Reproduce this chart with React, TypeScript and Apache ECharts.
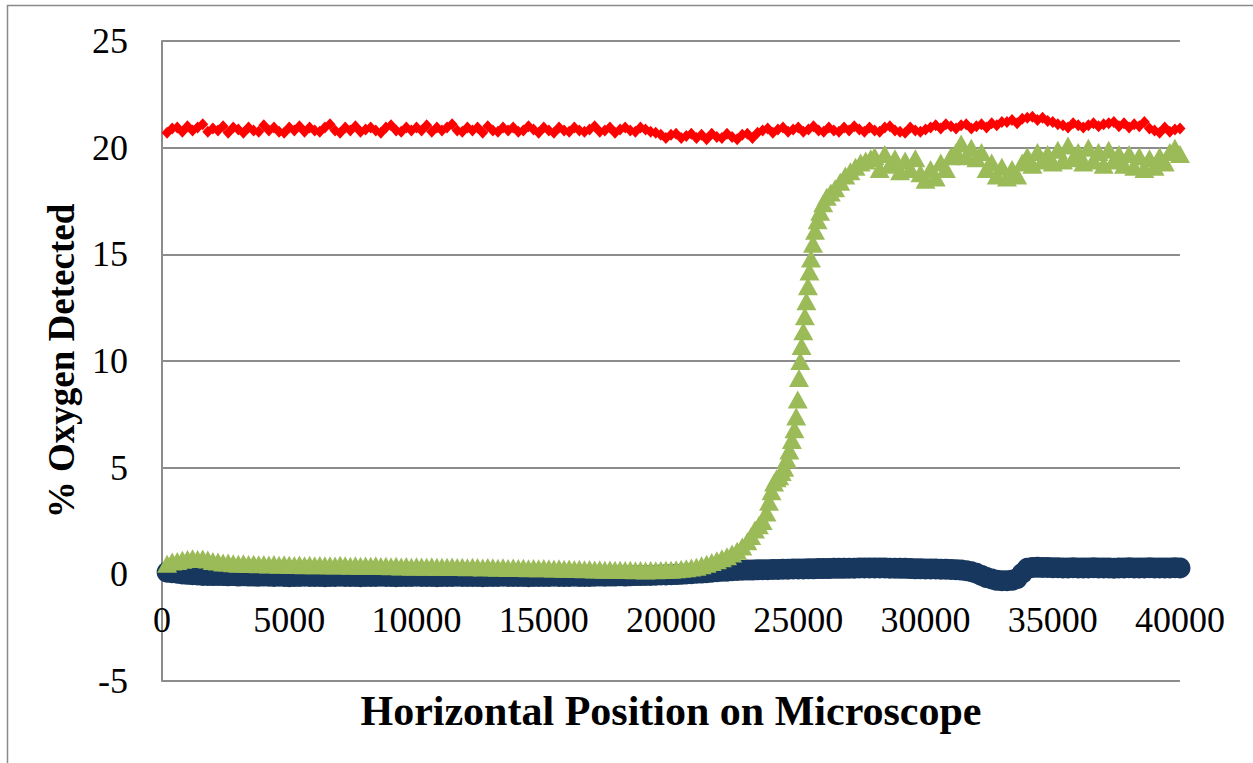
import React, { useEffect, useRef } from "react";
import * as echarts from "echarts";

// Positions on the microscope sampled every 200 units (red and blue series)
const X_START = 200;
const X_STEP = 200;

// Red series: % oxygen (upper trace)
const redValues = [
  20.7, 20.9, 20.95, 20.75, 21.0, 20.8, 20.95, 21.1, 20.75, 20.9,
  20.8, 21.0, 20.7, 20.95, 20.85, 20.7, 20.95, 20.8, 20.75, 21.05,
  20.8, 20.95, 20.75, 20.7, 20.95, 20.8, 21.0, 20.75, 20.95, 20.8,
  20.75, 20.95, 21.1, 20.8, 20.7, 20.95, 20.8, 21.0, 20.75, 20.85,
  20.95, 20.8, 20.7, 20.95, 21.05, 20.8, 20.75, 20.95, 20.8, 20.95,
  20.8, 21.05, 20.75, 20.95, 20.8, 20.95, 21.1, 20.8, 20.75, 20.95,
  20.8, 20.95, 20.7, 21.0, 20.8, 20.75, 20.95, 20.8, 20.95, 20.75,
  20.8, 21.0, 20.85, 20.7, 20.95, 20.8, 20.7, 20.95, 20.8, 20.75,
  20.95, 20.8, 20.75, 20.85, 21.0, 20.75, 20.8, 20.95, 20.7, 20.85,
  20.95, 20.8, 20.75, 20.95, 20.85, 20.75, 20.7, 20.6, 20.45, 20.6,
  20.65, 20.45, 20.55, 20.65, 20.45, 20.6, 20.4, 20.65, 20.5, 20.45,
  20.65, 20.5, 20.4, 20.6, 20.65, 20.45, 20.7, 20.8, 20.9, 20.7,
  20.85, 20.95, 20.75, 20.85, 20.95, 20.75, 20.85, 21.0, 20.8, 20.75,
  20.95, 20.8, 20.75, 20.95, 20.8, 21.0, 20.85, 20.75, 20.95, 20.8,
  20.75, 20.95, 21.0, 20.8, 20.75, 20.7, 20.95, 20.8, 20.75, 20.85,
  20.95, 21.05, 20.9, 21.1, 21.0, 20.9, 21.05, 21.1, 20.9, 21.0,
  21.1, 20.95, 21.15, 21.05, 21.2, 21.2, 21.3, 21.15, 21.35, 21.4,
  21.45, 21.3, 21.4, 21.25, 21.2, 21.1, 21.05, 20.95, 21.15, 21.05,
  20.95, 21.05, 21.15, 21.0, 21.1, 21.15, 21.2, 21.0, 21.15, 20.95,
  21.1, 21.0, 21.2, 20.9, 20.8, 20.7, 20.95, 20.75, 20.85, 20.9,
];

// Dark blue series: % oxygen (bottom trace)
const blueValues = [
  0.1, 0.08, 0.05, 0.02, 0.0, -0.02, -0.03, -0.05, -0.05, -0.06,
  -0.05, -0.06, -0.07, -0.06, -0.08, -0.07, -0.08, -0.08, -0.09, -0.08,
  -0.09, -0.1, -0.09, -0.1, -0.11, -0.1, -0.1, -0.09, -0.1, -0.1,
  -0.1, -0.11, -0.1, -0.1, -0.09, -0.1, -0.1, -0.1, -0.11, -0.1,
  -0.1, -0.1, -0.09, -0.1, -0.1, -0.11, -0.1, -0.1, -0.1, -0.09,
  -0.1, -0.1, -0.1, -0.11, -0.1, -0.1, -0.1, -0.09, -0.1, -0.1,
  -0.1, -0.1, -0.11, -0.1, -0.1, -0.1, -0.09, -0.1, -0.1, -0.1,
  -0.1, -0.11, -0.1, -0.1, -0.1, -0.1, -0.09, -0.1, -0.1, -0.1,
  -0.09, -0.1, -0.1, -0.1, -0.09, -0.08, -0.09, -0.08, -0.08, -0.07,
  -0.08, -0.07, -0.06, -0.06, -0.05, -0.05, -0.04, -0.03, -0.03, -0.02,
  -0.01, 0.0, 0.02, 0.03, 0.05, 0.06, 0.08, 0.1, 0.12, 0.14,
  0.15, 0.17, 0.18, 0.19, 0.2, 0.2, 0.21, 0.22, 0.22, 0.23,
  0.23, 0.24, 0.24, 0.25, 0.25, 0.25, 0.26, 0.26, 0.27, 0.27,
  0.27, 0.28, 0.28, 0.28, 0.29, 0.29, 0.3, 0.3, 0.3, 0.3,
  0.3, 0.3, 0.29, 0.29, 0.28, 0.28, 0.27, 0.26, 0.26, 0.25,
  0.25, 0.25, 0.24, 0.24, 0.23, 0.22, 0.2, 0.17, 0.12, 0.05,
  -0.05, -0.15, -0.22, -0.28, -0.3, -0.3, -0.28, -0.2, 0.05, 0.28,
  0.32, 0.33, 0.32, 0.32, 0.31, 0.31, 0.3, 0.3, 0.31, 0.3,
  0.3, 0.3, 0.31, 0.3, 0.3, 0.3, 0.29, 0.3, 0.3, 0.31,
  0.3, 0.3, 0.3, 0.31, 0.3, 0.3, 0.3, 0.3, 0.31, 0.3,
];

// Green series: positions and % oxygen (the trace that rises near 25000)
const greenX = [
  200, 400, 600, 800, 1000, 1200, 1400, 1600, 1800, 2000,
  2200, 2400, 2600, 2800, 3000, 3200, 3400, 3600, 3800, 4000,
  4200, 4400, 4600, 4800, 5000, 5200, 5400, 5600, 5800, 6000,
  6200, 6400, 6600, 6800, 7000, 7200, 7400, 7600, 7800, 8000,
  8200, 8400, 8600, 8800, 9000, 9200, 9400, 9600, 9800, 10000,
  10200, 10400, 10600, 10800, 11000, 11200, 11400, 11600, 11800, 12000,
  12200, 12400, 12600, 12800, 13000, 13200, 13400, 13600, 13800, 14000,
  14200, 14400, 14600, 14800, 15000, 15200, 15400, 15600, 15800, 16000,
  16200, 16400, 16600, 16800, 17000, 17200, 17400, 17600, 17800, 18000,
  18200, 18400, 18600, 18800, 19000, 19200, 19400, 19600, 19800, 20000,
  20200, 20400, 20600, 20800, 21000,
  21200, 21400, 21600, 21800, 22000, 22200, 22400, 22600, 22800, 23000,
  23150, 23300, 23450, 23600, 23750, 23850, 23950, 24050, 24150, 24250,
  24350, 24450, 24550, 24650, 24750, 24850, 24920, 24980, 25030, 25080,
  25130, 25200, 25260, 25320, 25380, 25440, 25500, 25580, 25660, 25760,
  25860, 25980, 26120, 26280, 26450, 26650, 26850, 27050, 27250, 27450,
  27650, 27850,
  28000, 28200, 28400, 28600, 28800, 29000, 29200, 29400, 29600, 29800,
  30000, 30200, 30400, 30600, 30800, 31000, 31200, 31400, 31600, 31800,
  32000, 32200, 32400, 32600, 32800, 33000, 33200, 33400, 33600, 33800,
  34000, 34200, 34400, 34600, 34800, 35000, 35200, 35400, 35600, 35800,
  36000, 36200, 36400, 36600, 36800, 37000, 37200, 37400, 37600, 37800,
  38000, 38200, 38400, 38600, 38800, 39000, 39200, 39400, 39600, 39800,
  40000,
];
const greenValues = [
  0.5, 0.6, 0.62, 0.68, 0.72, 0.75, 0.72, 0.74, 0.7, 0.62,
  0.6, 0.55, 0.56, 0.52, 0.5, 0.52, 0.48, 0.5, 0.47, 0.48,
  0.46, 0.48, 0.45, 0.47, 0.45, 0.44, 0.46, 0.43, 0.45, 0.42,
  0.44, 0.42, 0.43, 0.41, 0.45, 0.42, 0.4, 0.42, 0.4, 0.41,
  0.4, 0.42, 0.39, 0.4, 0.38, 0.4, 0.37, 0.39, 0.36, 0.38,
  0.37, 0.36, 0.38, 0.35, 0.36, 0.35, 0.37, 0.34, 0.35, 0.33,
  0.35, 0.34, 0.32, 0.34, 0.33, 0.31, 0.33, 0.3, 0.32, 0.3,
  0.31, 0.29, 0.3, 0.28, 0.3, 0.28, 0.27, 0.28, 0.26, 0.27,
  0.25, 0.26, 0.24, 0.25, 0.23, 0.24, 0.22, 0.23, 0.21, 0.22,
  0.2, 0.21, 0.19, 0.2, 0.18, 0.2, 0.19, 0.2, 0.21, 0.22,
  0.24, 0.26, 0.28, 0.32, 0.36,
  0.42, 0.5, 0.58, 0.66, 0.75, 0.85, 0.98, 1.1, 1.3, 1.55,
  1.8, 2.1, 2.3, 2.5, 2.9, 3.4, 3.9, 4.3, 4.5, 4.6,
  4.8, 5.0, 5.4, 5.8, 6.3, 6.8, 7.4, 8.2, 9.2, 10.0,
  10.7, 11.4, 12.1, 12.8, 13.5, 14.2, 14.8, 15.5, 16.1, 16.6,
  17.0, 17.4, 17.7, 17.9, 18.1, 18.4, 18.7, 18.9, 19.1, 19.3,
  19.4, 19.5,
  19.6, 19.0, 19.7, 19.2, 19.5, 18.9, 19.4, 19.0, 19.5, 18.8,
  18.5, 19.0, 18.6, 19.3, 19.0, 19.6, 19.8, 20.2, 19.6, 20.0,
  19.5, 19.8, 19.0, 19.3, 18.7, 19.1, 18.6, 19.0, 18.7, 19.3,
  19.6, 19.2, 19.8, 19.4, 19.7, 19.3, 19.9, 19.4, 20.1, 19.5,
  19.8, 19.3, 20.0, 19.4, 19.8, 19.2, 19.9, 19.4, 19.7, 19.2,
  19.7, 19.1, 19.6, 19.0, 19.5, 19.1, 19.6, 19.3, 19.8, 20.0,
  19.7,
];

// Axis ticks
const X_MIN = 0;
const X_MAX = 40000;
const X_INTERVAL = 5000;
const Y_MIN = -5;
const Y_MAX = 25;
const Y_INTERVAL = 5;

const X_TITLE = "Horizontal Position on Microscope";
const Y_TITLE = "% Oxygen Detected";

const FONT = "'Times New Roman', 'Liberation Serif', serif";

// grid geometry
const GRID_TOP = 41;
const GRID_BOTTOM = 82;
const CHART_H = 763;

export default function App() {
  const ref = useRef<HTMLDivElement>(null);

  useEffect(() => {
    if (!ref.current) return;
    const chart = echarts.init(ref.current, null, { renderer: "svg" });

    const redData = redValues.map((v, i) => [X_START + i * X_STEP, v]);
    const blueData = blueValues.map((v, i) => [X_START + i * X_STEP, v]);
    const greenData = greenValues.map((v, i) => [greenX[i], v]);

    // x axis crosses the y axis at 0 (Excel style): shift it up from the bottom edge
    const plotH = CHART_H - GRID_TOP - GRID_BOTTOM;
    const zeroOffset = -(plotH * (0 - Y_MIN)) / (Y_MAX - Y_MIN);

    chart.setOption({
      animation: false,
      backgroundColor: "#ffffff",
      grid: {
        left: 162,
        right: 73,
        top: GRID_TOP,
        bottom: GRID_BOTTOM,
        containLabel: false,
        outerBoundsMode: "none",
      },
      graphic: [
        {
          type: "rect",
          shape: { x: 7.5, y: 5.5, width: 1400, height: 900 },
          style: { fill: "none", stroke: "#8a8a8a", lineWidth: 1.5 },
          silent: true,
        },
      ],
      xAxis: {
        type: "value",
        min: X_MIN,
        max: X_MAX,
        interval: X_INTERVAL,
        offset: zeroOffset,
        name: X_TITLE,
        nameLocation: "middle",
        nameGap: 116,
        nameTextStyle: {
          fontFamily: FONT,
          fontSize: 42,
          fontWeight: "bold",
          color: "#000",
        },
        axisLine: { show: true, onZero: false, lineStyle: { color: "#8c8c8c", width: 1.5 } },
        axisTick: { show: false },
        splitLine: { show: false },
        axisLabel: {
          fontFamily: FONT,
          fontSize: 36,
          color: "#000",
          margin: 28,
          formatter: (v: number) => String(v),
        },
      },
      yAxis: {
        type: "value",
        min: Y_MIN,
        max: Y_MAX,
        interval: Y_INTERVAL,
        name: Y_TITLE,
        nameLocation: "middle",
        nameGap: 82,
        nameRotate: 90,
        nameTextStyle: {
          fontFamily: FONT,
          fontSize: 37,
          fontWeight: "bold",
          color: "#000",
        },
        axisLine: { show: true, onZero: false, lineStyle: { color: "#8c8c8c", width: 2 } },
        axisTick: { show: false },
        splitLine: { show: true, lineStyle: { color: "#8c8c8c", width: 2 } },
        axisLabel: {
          fontFamily: FONT,
          fontSize: 36,
          color: "#000",
          margin: 34,
          formatter: (v: number) => String(v),
        },
      },
      series: [
        {
          name: "Blue",
          type: "scatter",
          data: blueData,
          symbol: "circle",
          symbolSize: 21,
          itemStyle: { color: "#17375E", opacity: 1 },
          z: 2,
        },
        {
          name: "Green",
          type: "scatter",
          data: greenData,
          symbol: "triangle",
          symbolSize: [20, 18],
          itemStyle: { color: "#9BBB59", opacity: 1 },
          z: 3,
        },
        {
          name: "Red",
          type: "scatter",
          data: redData,
          symbol: "diamond",
          symbolSize: [11, 12],
          itemStyle: { color: "#FF0000", opacity: 1 },
          z: 4,
        },
      ],
    });

    return () => chart.dispose();
  }, []);

  return (
    <div
      ref={ref}
      style={{ position: "fixed", left: 0, top: 0, width: 1253, height: 763, background: "#fff" }}
    />
  );
}
